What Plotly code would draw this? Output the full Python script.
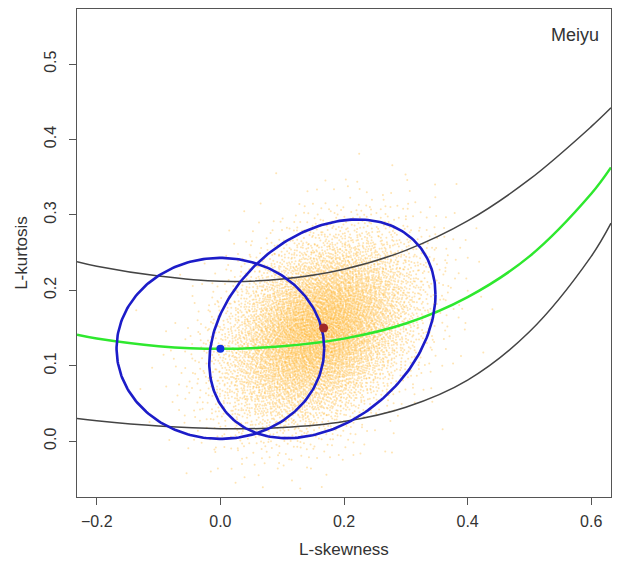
import numpy as np
import plotly.graph_objects as go

# ---- data ----
curve_x = [-0.232, -0.2, -0.1, 0.0, 0.1, 0.2, 0.3, 0.4, 0.5, 0.6, 0.632]
green_y = [0.141, 0.136, 0.126, 0.1225, 0.126, 0.136, 0.156, 0.191, 0.245, 0.328, 0.363]
upper_y = [0.238, 0.232, 0.219, 0.212, 0.215, 0.228, 0.253, 0.292, 0.347, 0.417, 0.442]
lower_y = [0.030, 0.027, 0.020, 0.0165, 0.018, 0.026, 0.045, 0.081, 0.145, 0.245, 0.289]

# point estimates (blue = reference, red = sample mean)
blue_pt = (0.0, 0.1225)
red_pt = (0.167, 0.150)

# ellipse parameters: centre x, centre y, half-width x, half-height y, correlation
small_ell = dict(cx=0.0, cy=0.123, sx=0.168, sy=0.120, rho=0.0)
big_ell = dict(cx=0.165, cy=0.149, sx=0.183, sy=0.145, rho=0.31)

# sample cloud parameters: mean, sd, correlation, count
cloud_mean = (0.160, 0.147)
cloud_sd = (0.077, 0.062)
cloud_rho = 0.33
cloud_n = 9000

x_range = [-0.232, 0.632]
y_range = [-0.074, 0.573]
x_ticks = [-0.2, 0.0, 0.2, 0.4, 0.6]
y_ticks = [0.0, 0.1, 0.2, 0.3, 0.4, 0.5]


def halton(n, base):
    i = np.arange(1, n + 1)
    res = np.zeros(n)
    f = 1.0
    while (i > 0).any():
        f /= base
        res += f * (i % base)
        i //= base
    return res


u1 = halton(cloud_n, 2)
u2 = halton(cloud_n, 3)
r = np.sqrt(-2 * np.log(u1))
z1 = r * np.cos(2 * np.pi * u2)
z2 = r * np.sin(2 * np.pi * u2)
cx_pts = cloud_mean[0] + cloud_sd[0] * z1
cy_pts = cloud_mean[1] + cloud_sd[1] * (cloud_rho * z1 + np.sqrt(1 - cloud_rho ** 2) * z2)


def ellipse(p, n=240):
    t = np.linspace(0, 2 * np.pi, n)
    x = p["cx"] + p["sx"] * np.cos(t)
    y = p["cy"] + p["sy"] * (p["rho"] * np.cos(t) + np.sqrt(1 - p["rho"] ** 2) * np.sin(t))
    return x, y


fig = go.Figure()
fig.add_trace(go.Scatter(x=cx_pts, y=cy_pts, mode="markers",
                         marker=dict(size=2, color="rgba(255,170,20,0.32)", line=dict(width=0)),
                         hoverinfo="skip", showlegend=False))
for yy in (upper_y, lower_y):
    fig.add_trace(go.Scatter(x=curve_x, y=yy, mode="lines",
                             line=dict(color="#444444", width=1.5, shape="spline", smoothing=1.0),
                             showlegend=False))
fig.add_trace(go.Scatter(x=curve_x, y=green_y, mode="lines",
                         line=dict(color="#2ee82e", width=2.5, shape="spline", smoothing=1.0),
                         showlegend=False))
for p in (small_ell, big_ell):
    ex, ey = ellipse(p)
    fig.add_trace(go.Scatter(x=ex, y=ey, mode="lines", line=dict(color="#1c1cc8", width=2.6), showlegend=False))
fig.add_trace(go.Scatter(x=[blue_pt[0]], y=[blue_pt[1]], mode="markers",
                         marker=dict(size=8, color="#1030e0"), showlegend=False))
fig.add_trace(go.Scatter(x=[red_pt[0]], y=[red_pt[1]], mode="markers",
                         marker=dict(size=9, color="#a02828"), showlegend=False))

font = "Liberation Sans, Arial, sans-serif"
axis_common = dict(showgrid=False, zeroline=False, showline=True, mirror=True, linecolor="#555555",
                   linewidth=1.2, ticks="outside", ticklen=7, tickcolor="#555555", tickwidth=1,
                   tickformat=".1f", tickfont=dict(family=font, size=16, color="#333333"))
fig.update_layout(
    width=619, height=562,
    margin=dict(l=77, r=8, t=9, b=65),
    paper_bgcolor="white", plot_bgcolor="white",
    xaxis=dict(range=x_range, tickvals=x_ticks, ticklabelstandoff=3, **axis_common,
               title=dict(text="L-skewness", font=dict(family=font, size=17, color="#333333"), standoff=13)),
    yaxis=dict(range=y_range, tickvals=y_ticks, tickangle=-90, ticklabelstandoff=7, **axis_common,
               title=dict(text="L-kurtosis", font=dict(family=font, size=17, color="#333333"), standoff=9)),
    annotations=[dict(text="Meiyu", xref="paper", yref="paper", x=0.981, y=0.947, xanchor="right",
                      yanchor="middle", showarrow=False, font=dict(family=font, size=18, color="#333333"))],
)
fig.write_html("out.html")
